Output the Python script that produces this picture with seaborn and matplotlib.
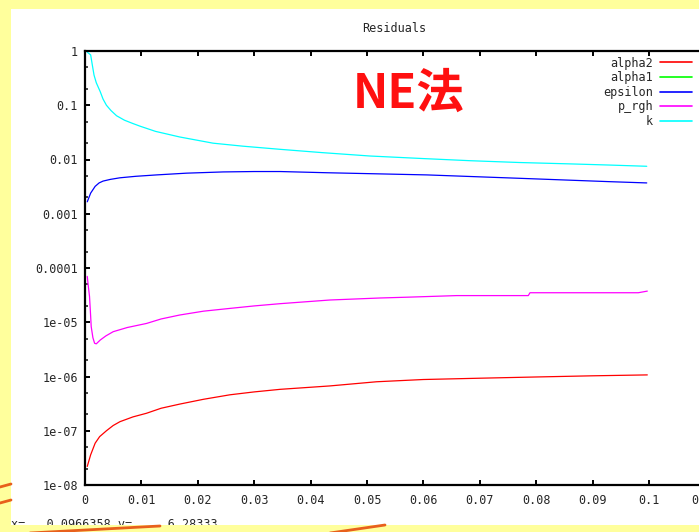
import numpy as np
import pandas as pd
import matplotlib
matplotlib.use('Agg')
import matplotlib.pyplot as plt
from matplotlib.lines import Line2D
from matplotlib.patches import Rectangle
from matplotlib.ticker import LogLocator, NullFormatter
import seaborn as sns

# residual histories (time vs residual)
k_x = [0.0004, 0.0010, 0.0013, 0.0016, 0.0020, 0.0027, 0.0032, 0.0038, 0.0046, 0.0056,
       0.007, 0.0085, 0.0098, 0.0125, 0.0168, 0.0227, 0.028, 0.0346, 0.042, 0.0505,
       0.06, 0.0683, 0.077, 0.086, 0.093, 0.0996]
k_y = [0.95, 0.85, 0.55, 0.36, 0.26, 0.178, 0.13, 0.10, 0.08, 0.064,
       0.053, 0.046, 0.041, 0.033, 0.026, 0.020, 0.0176, 0.0154, 0.0134, 0.0116,
       0.0104, 0.0095, 0.0088, 0.0083, 0.0079, 0.0075]

eps_x = [0.0004, 0.0010, 0.0018, 0.0025, 0.0032, 0.0045, 0.0062, 0.009, 0.0127, 0.018,
         0.0245, 0.030, 0.0346, 0.0429, 0.0606, 0.0771, 0.0931, 0.0996]
eps_y = [0.00166, 0.0024, 0.0032, 0.0037, 0.0040, 0.0043, 0.0046, 0.0049, 0.0052, 0.0056,
         0.0059, 0.0060, 0.0060, 0.0057, 0.0052, 0.0045, 0.0039, 0.0037]

prgh_x = [0.0004, 0.0006, 0.0008, 0.0010, 0.0011, 0.0014, 0.0017, 0.0020, 0.0027, 0.0037,
          0.005, 0.0075, 0.0109, 0.0135, 0.0168, 0.021, 0.0257, 0.030, 0.0346, 0.0434,
          0.0523, 0.0573, 0.0659, 0.0786, 0.0789, 0.0981, 0.0997]
prgh_y = [7.0e-5, 4.5e-5, 3.0e-5, 1.3e-5, 8.3e-6, 5.2e-6, 4.1e-6, 4.0e-6, 4.7e-6, 5.6e-6,
          6.7e-6, 8.0e-6, 9.5e-6, 1.15e-5, 1.36e-5, 1.6e-5, 1.8e-5, 2.0e-5, 2.2e-5, 2.57e-5,
          2.8e-5, 2.9e-5, 3.1e-5, 3.1e-5, 3.5e-5, 3.5e-5, 3.75e-5]

a2_x = [0.0004, 0.0010, 0.0018, 0.0026, 0.0038, 0.005, 0.0062, 0.0085, 0.0109, 0.0135,
        0.0168, 0.021, 0.0257, 0.030, 0.0346, 0.0434, 0.0517, 0.06, 0.07, 0.08,
        0.09, 0.0997]
a2_y = [2.2e-8, 3.6e-8, 5.9e-8, 7.8e-8, 1.0e-7, 1.25e-7, 1.47e-7, 1.8e-7, 2.1e-7, 2.6e-7,
        3.1e-7, 3.8e-7, 4.6e-7, 5.2e-7, 5.8e-7, 6.7e-7, 8.0e-7, 8.8e-7, 9.3e-7, 9.8e-7,
        1.03e-6, 1.07e-6]

series_names = ['alpha2', 'alpha1', 'epsilon', 'p_rgh', 'k']
series_colors = ['#ff0000', '#00ff00', '#0000ff', '#ff00ff', '#00ffff']

x_ticks = [0, 0.01, 0.02, 0.03, 0.04, 0.05, 0.06, 0.07, 0.08, 0.09, 0.1, 0.11]
x_labels = ['0', '0.01', '0.02', '0.03', '0.04', '0.05', '0.06', '0.07', '0.08', '0.09', '0.1', '0.11']
y_ticks = [1, 0.1, 0.01, 0.001, 1e-4, 1e-5, 1e-6, 1e-7, 1e-8]
y_labels = ['1', '0.1', '0.01', '0.001', '0.0001', '1e-05', '1e-06', '1e-07', '1e-08']

frames = [
    pd.DataFrame({'time': a2_x, 'residual': a2_y, 'field': 'alpha2'}),
    pd.DataFrame({'time': eps_x, 'residual': eps_y, 'field': 'epsilon'}),
    pd.DataFrame({'time': prgh_x, 'residual': prgh_y, 'field': 'p_rgh'}),
    pd.DataFrame({'time': k_x, 'residual': k_y, 'field': 'k'}),
]
df = pd.concat(frames, ignore_index=True)

sns.set_style('ticks')
plt.rcParams['font.family'] = ['DejaVu Sans Mono', 'DejaVu Sans']

W, H = 699, 532
fig = plt.figure(figsize=(W / 100, H / 100), dpi=100, facecolor='#ffff9c')

# white gnuplot window on the yellow slide
fig.add_artist(Rectangle((11 / W, 7 / H), 1, 1 - 16 / H, transform=fig.transFigure,
                         facecolor='white', edgecolor='none', zorder=-1))

ax = fig.add_axes([85 / W, 1 - 485 / H, 620.4 / W, 434 / H])
ax.set_facecolor('white')

palette = dict(zip(series_names, series_colors))
sns.lineplot(data=df, x='time', y='residual', hue='field', palette=palette,
             linewidth=0.9, legend=False, ax=ax, estimator=None, sort=False)

ax.set_yscale('log')
ax.set_xlim(0, 0.11)
ax.set_ylim(1e-8, 1)
ax.set_xticks(x_ticks)
ax.set_xticklabels(x_labels)
ax.set_yticks(y_ticks)
ax.set_yticklabels(y_labels)
ax.yaxis.set_minor_locator(LogLocator(base=10, subs=(2, 5)))
ax.yaxis.set_minor_formatter(NullFormatter())
ax.set_xlabel('')
ax.set_ylabel('')

for s in ax.spines.values():
    s.set_linewidth(1.6)
    s.set_color('black')
ax.tick_params(axis='both', which='major', direction='in', length=3.5, width=1.4,
               labelsize=8.5, top=True, right=True, color='black')
ax.tick_params(axis='x', which='major', pad=6.5)
ax.tick_params(axis='y', which='major', pad=5)
ax.tick_params(axis='y', which='minor', direction='in', length=2, width=1.2, right=True)

handles = [Line2D([], [], color=c, lw=1.2) for c in series_colors]
leg = ax.legend(handles, series_names, loc='upper right', bbox_to_anchor=(692 / W, 1 - 56.5 / H),
                bbox_transform=fig.transFigure, frameon=False, markerfirst=False,
                fontsize=8.5, handlelength=2.7, handletextpad=0.6, labelspacing=0.14,
                borderpad=0, borderaxespad=0)

fig.text(394 / W, 1 - 29 / H, 'Residuals', ha='center', va='center', fontsize=8.5)

fig.text(409 / W, 1 - 94 / H, 'NE法', ha='center', va='center', fontsize=34,
         fontweight='bold', color='#ff1010', family=['Noto Sans CJK JP', 'DejaVu Sans'])

fig.text(11 / W, 1 - 518 / H, 'x=   0.0966358 y=     6.28333', ha='left', va='top',
         fontsize=8.5, zorder=2)

# yellow strip at the bottom that clips the status line
fig.add_artist(Rectangle((0, 0), 1, 7 / H, transform=fig.transFigure,
                         facecolor='#ffff9c', edgecolor='none', zorder=3))

# orange swooshes of the slide template
orange = '#e8601c'
for (x0, y0, x1, y1) in [(0, 487, 11, 484), (0, 503, 11, 500), (30, 533, 160, 526),
                         (330, 533, 385, 525)]:
    fig.add_artist(Line2D([x0 / W, x1 / W], [1 - y0 / H, 1 - y1 / H], transform=fig.transFigure,
                          color=orange, lw=2, zorder=4))

fig.savefig('out.png', dpi=100, facecolor=fig.get_facecolor())
